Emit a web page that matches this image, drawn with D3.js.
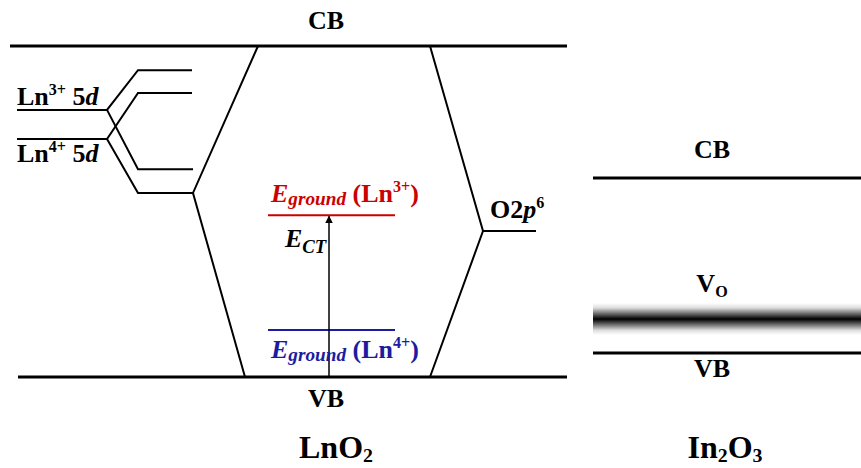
<!DOCTYPE html>
<html>
<head>
<meta charset="utf-8">
<script src="https://cdn.jsdelivr.net/npm/d3@7"></script>
<style>
  body { margin: 0; background: #fff; }
  text { font-family: "Liberation Serif", "Times New Roman", serif; font-weight: bold; }
</style>
</head>
<body>
<svg id="chart" width="861" height="468"></svg>
<script>
// energies in arbitrary units, VB = 0, CB = 100 for each material
const lnBands = [{ name: "CB", e: 100 }, { name: "VB", e: 0 }];
const lnSplit = [
  { ion: "3+", e: 80.7, up: 92.7, down: 62.8 },
  { ion: "4+", e: 71.9, up: 85.8, down: 55.6 }
];
const o2p = 44.1;
const groundStates = [
  { ion: "3+", e: 48.9, color: "#cc0000" },
  { ion: "4+", e: 14.2, color: "#1c1ca0" }
];
const inBands = [{ name: "CB", e: 100 }, { name: "VB", e: 0 }];
const vacancy = 19.4;

const svg = d3.select("#chart");
const yLn = d3.scaleLinear().domain([0, 100]).range([377, 46]);
const yIn = d3.scaleLinear().domain([0, 100]).range([353, 178]);

const g = svg.append("g").attr("stroke", "#000").attr("fill", "none").attr("stroke-width", 2);

// LnO2 bands
g.append("line").attr("x1", 10).attr("x2", 567).attr("y1", yLn(100)).attr("y2", yLn(100)).attr("stroke-width", 3);
g.append("line").attr("x1", 18).attr("x2", 567).attr("y1", yLn(0)).attr("y2", yLn(0)).attr("stroke-width", 3);

// band edges to 5d and O2p
const line = d3.line();
g.append("path").attr("d", line([[258, yLn(100)], [193, yLn(lnSplit[1].down)], [245, yLn(0)]]));
g.append("path").attr("d", line([[430, yLn(100)], [483, yLn(o2p)], [430, yLn(0)]]));
g.append("line").attr("x1", 483).attr("x2", 536).attr("y1", yLn(o2p)).attr("y2", yLn(o2p));

// 5d splitting
lnSplit.forEach(d => {
  g.append("path").attr("d", line([[17, yLn(d.e)], [107, yLn(d.e)], [138, yLn(d.up)], [192, yLn(d.up)]]));
  g.append("path").attr("d", line([[107, yLn(d.e)], [138, yLn(d.down)], [193, yLn(d.down)]]));
});

// ground states
groundStates.forEach(d => {
  g.append("line").attr("x1", 268).attr("x2", 395).attr("y1", yLn(d.e)).attr("y2", yLn(d.e)).attr("stroke", d.color);
});

// E_CT arrow
svg.append("defs").append("marker")
  .attr("id", "arr").attr("viewBox", "0 0 10 10").attr("refX", 9).attr("refY", 5)
  .attr("markerWidth", 5).attr("markerHeight", 5).attr("orient", "auto")
  .append("path").attr("d", "M0,0L10,5L0,10z").attr("fill", "#000");
g.append("line").attr("x1", 329).attr("x2", 329).attr("y1", yLn(0)).attr("y2", yLn(groundStates[0].e) + 1)
  .attr("stroke-width", 1.5).attr("marker-end", "url(#arr)");

// In2O3
const grad = svg.select("defs").append("linearGradient").attr("id", "vo")
  .attr("x1", 0).attr("x2", 0).attr("y1", 0).attr("y2", 1);
[[0, "#fff"], [0.15, "#ddd"], [0.5, "#000"], [0.85, "#ddd"], [1, "#fff"]].forEach(s =>
  grad.append("stop").attr("offset", s[0]).attr("stop-color", s[1]));
svg.append("rect").attr("x", 593).attr("width", 268).attr("y", yIn(vacancy) - 16).attr("height", 32).attr("fill", "url(#vo)");
inBands.forEach(b => {
  g.append("line").attr("x1", 593).attr("x2", 861).attr("y1", yIn(b.e)).attr("y2", yIn(b.e)).attr("stroke-width", 3);
});

// labels; sup/sub are placed with dy so they stay inside the picture
function label(x, y, size, parts, anchor, color) {
  const t = svg.append("text").attr("x", x).attr("y", y).attr("font-size", size)
    .attr("text-anchor", anchor || "start").attr("fill", color || "#000");
  let off = 0;
  parts.forEach(p => {
    const s = t.append("tspan").text(p.t);
    let target = 0;
    if (p.i) s.attr("font-style", "italic");
    if (p.sup) { s.attr("font-size", size * 0.62); target = -size * 0.38; }
    if (p.sub) { s.attr("font-size", size * (p.k || 0.62)); target = size * (p.low || 0.2); }
    if (target !== off) { s.attr("dy", target - off); off = target; }
  });
  return t;
}
label(326, 29, 26, [{ t: "CB" }], "middle");
label(326, 407, 26, [{ t: "VB" }], "middle");
label(336, 458, 32, [{ t: "LnO" }, { t: "2", sub: 1, low: 0.12 }], "middle");
label(725, 458, 32, [{ t: "In" }, { t: "2", sub: 1, low: 0.12 }, { t: "O" }, { t: "3", sub: 1, low: 0.12 }], "middle");
label(712, 158, 26, [{ t: "CB" }], "middle");
label(712, 377, 26, [{ t: "VB" }], "middle");
label(712, 292, 26, [{ t: "V" }, { t: "O", sub: 1 }], "middle");
label(490, 218, 26, [{ t: "O2" }, { t: "p", i: 1 }, { t: "6", sup: 1 }]);
label(17, 105, 26, [{ t: "Ln" }, { t: "3+", sup: 1 }, { t: " 5" }, { t: "d", i: 1 }]);
label(17, 162, 26, [{ t: "Ln" }, { t: "4+", sup: 1 }, { t: " 5" }, { t: "d", i: 1 }]);
label(285, 247, 26, [{ t: "E", i: 1 }, { t: "CT", i: 1, sub: 1, low: 0.22, k: 0.72 }]);
groundStates.forEach(d => {
  label(271, d.ion === "3+" ? 202 : 358, 26,
    [{ t: "E", i: 1 }, { t: "ground", i: 1, sub: 1, low: 0.12, k: 0.74 }, { t: " (Ln" }, { t: d.ion, sup: 1 }, { t: ")" }], "start", d.color);
});
</script>
</body>
</html>
